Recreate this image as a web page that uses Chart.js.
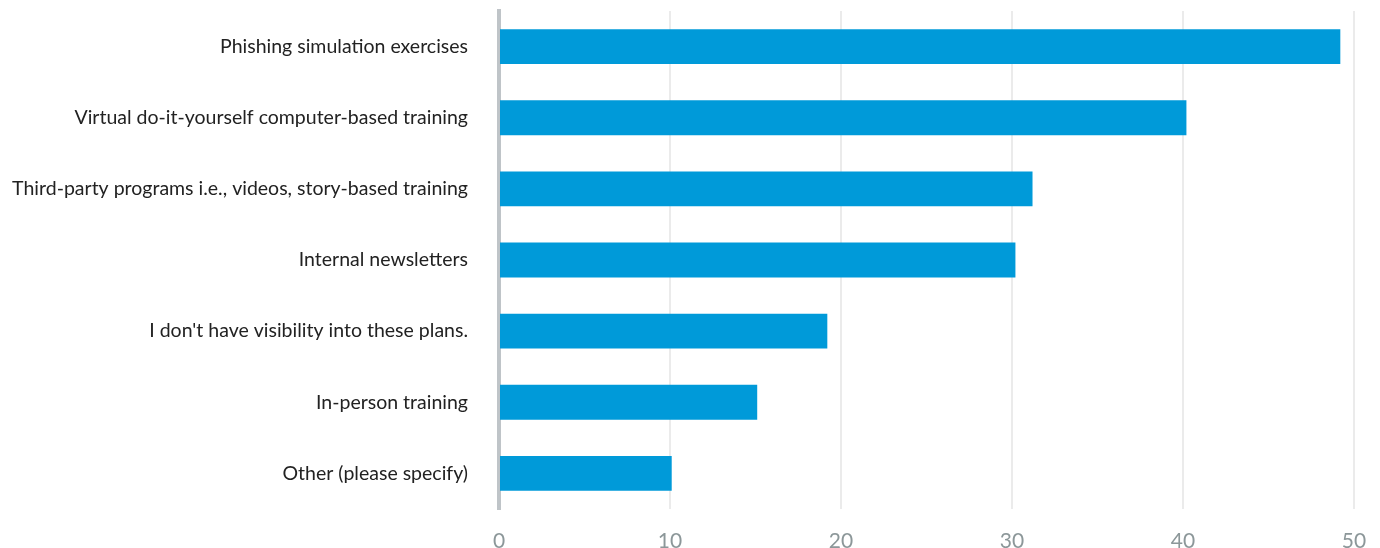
<!DOCTYPE html>
<html>
<head>
<meta charset="utf-8">
<script src="https://cdn.jsdelivr.net/npm/chart.js@4/dist/chart.umd.min.js"></script>
<style>
  html, body { margin: 0; padding: 0; background: #fff; }
  #wrap { width: 1380px; height: 548px; position: relative; }
</style>
</head>
<body>
<div id="wrap"><canvas id="myChart"></canvas></div>
<script>
// training methods, sorted by share of responses
var categories = [
  "Phishing simulation exercises",
  "Virtual do-it-yourself computer-based training",
  "Third-party programs i.e., videos, story-based training",
  "Internal newsletters",
  "I don't have visibility into these plans.",
  "In-person training",
  "Other (please specify)"
];
var values = [49.2, 40.2, 31.2, 30.2, 19.2, 15.1, 10.1];
var xTicks = [0, 10, 20, 30, 40, 50];

var ctx = document.getElementById("myChart");
var myChart = new Chart(ctx, {
  type: 'bar',
  data: {
    labels: categories,
    datasets: [{
      data: values,
      backgroundColor: "#009ad9",
      barPercentage: 0.49,
      categoryPercentage: 1.0
    }]
  },
  options: {
    indexAxis: 'y',
    responsive: true,
    maintainAspectRatio: false,
    animation: false,
    layout: { padding: { top: 11, right: 26, left: 0, bottom: 0 } },
    plugins: { legend: { display: false }, tooltip: { enabled: false } },
    scales: {
      x: {
        min: 0,
        max: 50,
        afterBuildTicks: function (scale) {
          scale.ticks = xTicks.map(function (v) { return { value: v }; });
        },
        afterFit: function (scale) {
          scale.height = 39;
          scale.paddingLeft = 0;
          scale.paddingRight = 0;
        },
        grid: { color: "#ebebeb", lineWidth: 2, drawTicks: false },
        border: { display: false },
        ticks: {
          padding: 20,
          color: "#8c9799",
          font: { family: "Lato", size: 21 }
        }
      },
      y: {
        afterFit: function (scale) {
          scale.width = 499;
          // labels sit mid-band, no need for extra room above/below
          scale.paddingTop = 0;
          scale.paddingBottom = 0;
        },
        grid: { display: false },
        border: { display: true, color: "#bfc4c8", width: 4 },
        ticks: {
          padding: 23,
          color: "#222",
          font: { family: "Lato", size: 19.5 }
        }
      }
    }
  }
});
</script>
</body>
</html>
